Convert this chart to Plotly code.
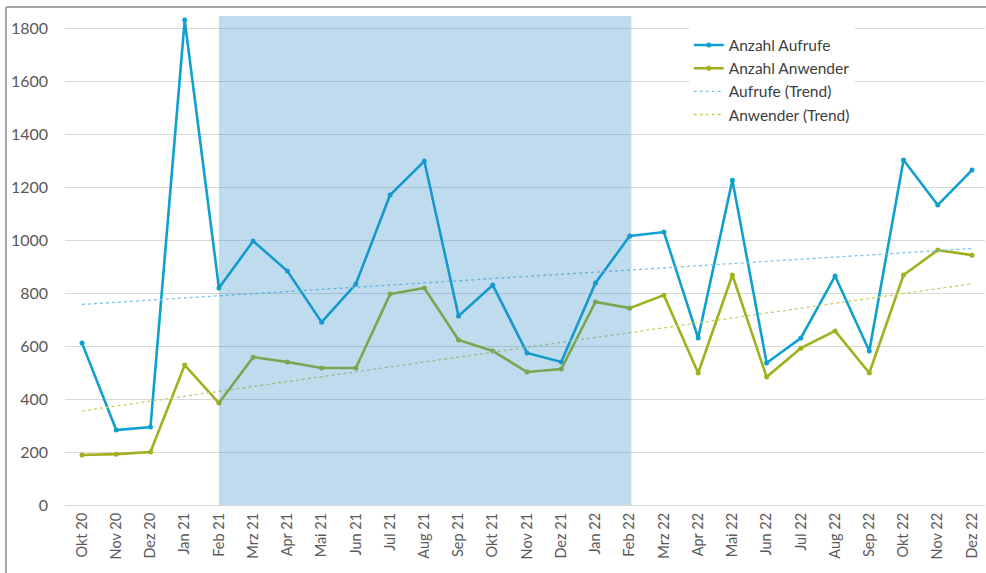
import plotly.graph_objects as go

months = ["Okt 20", "Nov 20", "Dez 20", "Jan 21", "Feb 21", "Mrz 21", "Apr 21", "Mai 21",
          "Jun 21", "Jul 21", "Aug 21", "Sep 21", "Okt 21", "Nov 21", "Dez 21", "Jan 22",
          "Feb 22", "Mrz 22", "Apr 22", "Mai 22", "Jun 22", "Jul 22", "Aug 22", "Sep 22",
          "Okt 22", "Nov 22", "Dez 22"]

aufrufe = [611, 283, 294, 1830, 819, 996, 883, 690, 834, 1170, 1298, 713, 830, 574, 540,
           838, 1015, 1030, 630, 1226, 536, 630, 864, 581, 1302, 1132, 1264]

anwender = [189, 192, 200, 528, 385, 558, 540, 517, 517, 796, 819, 623, 581, 502, 513,
            766, 743, 792, 498, 868, 483, 592, 657, 498, 868, 962, 943]

# trend line end points (Okt 20 and Dez 22)
trend_x = ["Okt 20", "Dez 22"]
trend_aufrufe = [757, 968]
trend_anwender = [355, 835]

# highlighted period
shade_start, shade_end = "Feb 21", "Feb 22"
shade_top = 1845

BLUE = "#0fa0cf"
GREEN = "#a0b01e"
BLUE_T = "#7cc3e6"
GREEN_T = "#c6cf6a"

fig = go.Figure()
fig.add_trace(go.Scatter(x=months, y=aufrufe, name="Anzahl Aufrufe", mode="lines+markers",
                         line=dict(color=BLUE, width=2.6), marker=dict(size=5, color=BLUE)))
fig.add_trace(go.Scatter(x=months, y=anwender, name="Anzahl Anwender", mode="lines+markers",
                         line=dict(color=GREEN, width=2.6), marker=dict(size=5, color=GREEN)))
fig.add_trace(go.Scatter(x=trend_x, y=trend_aufrufe, name="Aufrufe (Trend)", mode="lines",
                         line=dict(color=BLUE_T, width=1.3, dash="dot")))
fig.add_trace(go.Scatter(x=trend_x, y=trend_anwender, name="Anwender (Trend)", mode="lines",
                         line=dict(color=GREEN_T, width=1.3, dash="dot")))

i0 = months.index(shade_start)
i1 = months.index(shade_end)
fig.add_shape(type="rect", xref="x", yref="y", x0=i0, x1=i1 + 0.05, y0=0, y1=shade_top,
              fillcolor="rgba(40,140,200,0.30)", line=dict(width=0), layer="above")

# image frame (left and top border)
fig.add_shape(type="line", xref="paper", yref="paper", x0=-0.0641, x1=-0.0641, y0=-0.2, y1=1.006,
              line=dict(color="#8a8a8a", width=1.5))
fig.add_shape(type="line", xref="paper", yref="paper", x0=-0.0641, x1=1.02, y0=1.006, y1=1.006,
              line=dict(color="#8a8a8a", width=1.5))

fig.update_layout(
    width=986, height=573,
    margin=dict(l=65, r=1, t=10, b=64),
    paper_bgcolor="white", plot_bgcolor="white",
    font=dict(family="Lato, Open Sans, sans-serif", color="#595959"),
    showlegend=True,
    legend=dict(x=0.678, y=0.963, xanchor="left", yanchor="top", bgcolor="white",
                font=dict(size=15.5, color="#404040"), tracegroupgap=0, itemwidth=30),
    xaxis=dict(type="category", range=[-0.497, 26.38], tickangle=-90, showgrid=False,
               tickfont=dict(size=14.5, color="#595959"), showline=False, ticks="",
               fixedrange=True),
    yaxis=dict(range=[-15, 1868], tickvals=[0, 200, 400, 600, 800, 1000, 1200, 1400, 1600, 1800],
               showgrid=True, gridcolor="#d8d8d8", gridwidth=1, zeroline=False,
               tickfont=dict(size=16, color="#595959"), ticklabelstandoff=16, ticks=""),
)

fig.write_html("out.html")
